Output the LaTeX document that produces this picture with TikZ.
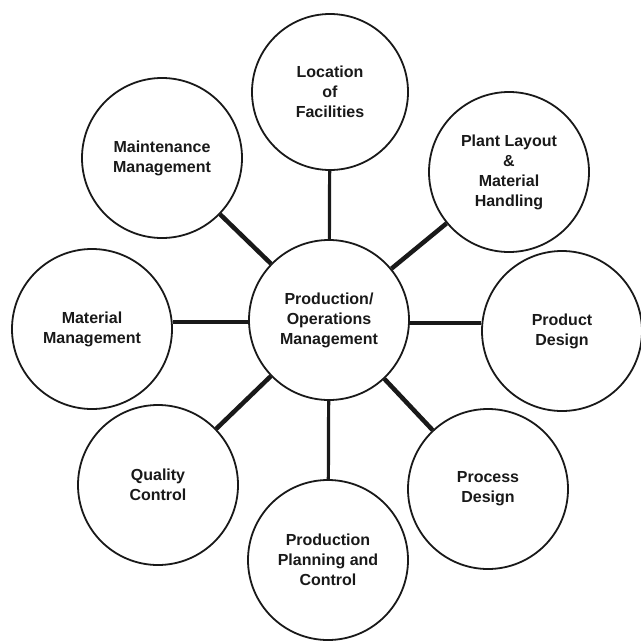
\documentclass[tikz,border=0pt]{standalone}
\usepackage{fontspec}
\setmainfont{Liberation Sans}
\begin{document}
\begin{tikzpicture}[x=1pt,y=-1pt,
  bubble/.style={circle,draw=black!90,line width=1.8pt,minimum size=160pt,inner sep=0pt,align=center,
    font=\fontsize{16}{20}\selectfont\bfseries,text=black!90},
  spoke/.style={line width=3.2pt,draw=black!90},
  dspoke/.style={line width=4.5pt,draw=black!90}]
\useasboundingbox (0,0) rectangle (640,642);
\node[bubble] (c) at (329,320) {Production/\\Operations\\Management};
\node[bubble,minimum size=156pt] (loc) at (330,92) {Location\\of\\Facilities};
\node[bubble] (plant) at (509,172) {Plant Layout\\\&\\Material\\Handling};
\node[bubble] (prod) at (562,331) {Product\\Design};
\node[bubble] (proc) at (488,489) {Process\\Design};
\node[bubble] (ppc) at (328,560) {Production\\Planning and\\Control};
\node[bubble] (qc) at (158,485) {Quality\\Control};
\node[bubble] (mat) at (92,329) {Material\\Management};
\node[bubble] (maint) at (162,158) {Maintenance\\Management};
\draw[spoke] (c) -- (loc);
\draw[spoke] (c) -- (ppc);
\draw[spoke] ([yshift=-3pt]c.east) -- ([yshift=-3pt]c.east -| prod.west);
\draw[spoke] ([yshift=-2pt]c.west) -- ([yshift=-2pt]c.west -| mat.east);
\foreach \n in {plant,proc,qc,maint}
  \draw[dspoke] (c) -- (\n);
\end{tikzpicture}
\end{document}
